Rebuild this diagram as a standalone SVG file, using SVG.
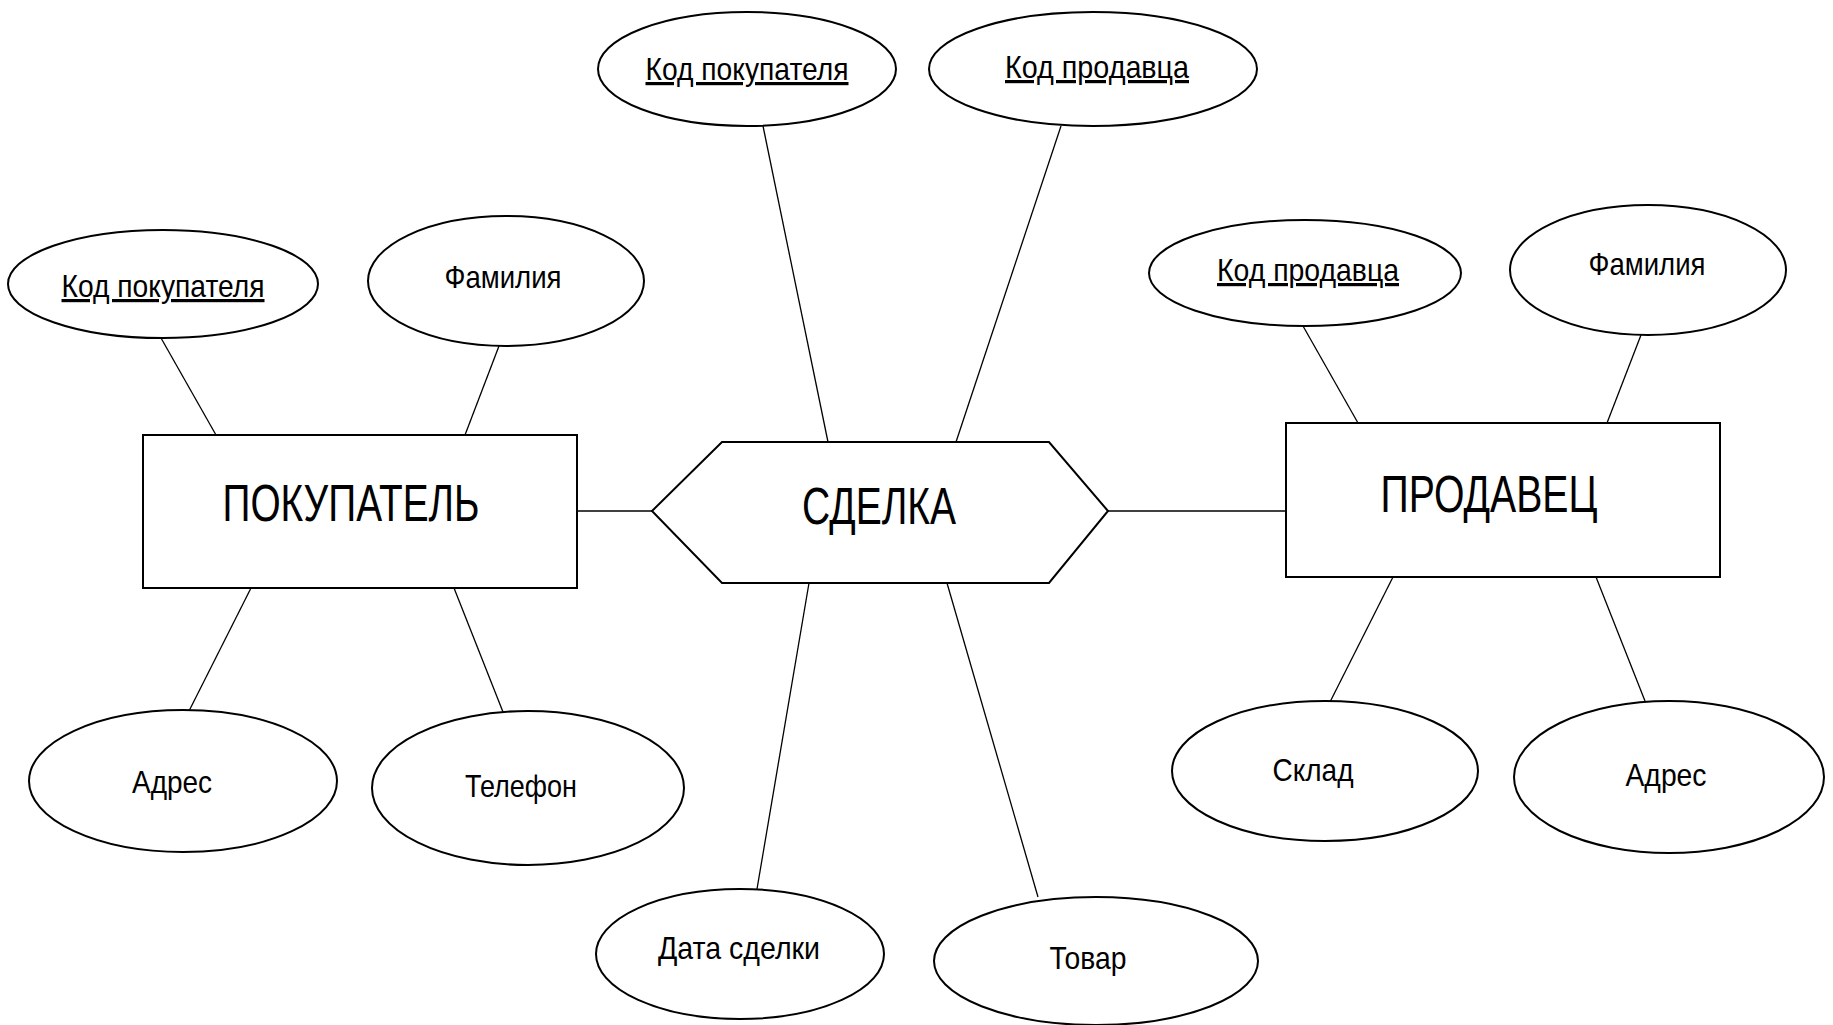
<svg xmlns="http://www.w3.org/2000/svg" width="1833" height="1025" viewBox="0 0 1833 1025">
<style>
.s{fill:#fff;stroke:#000;stroke-width:2}
.c line{stroke:#000;stroke-width:1.3}
text{font-family:"Liberation Sans",Arial,sans-serif;fill:#000;text-anchor:middle}
.a{font-size:32px}
.e{font-size:52px}
.u{text-decoration:underline}
</style>
<rect width="1833" height="1025" fill="#fff"/>
<g class="c" id="connectors">
<line x1="161" y1="338" x2="216" y2="435"/>
<line x1="499" y1="346" x2="465" y2="435"/>
<line x1="251" y1="588" x2="189" y2="711"/>
<line x1="454" y1="588" x2="503" y2="712"/>
<line x1="577" y1="511" x2="652" y2="511"/>
<line x1="763" y1="126" x2="828" y2="442"/>
<line x1="1061" y1="126" x2="956" y2="442"/>
<line x1="809" y1="583" x2="757" y2="889"/>
<line x1="947" y1="583" x2="1038" y2="897"/>
<line x1="1108" y1="511" x2="1286" y2="511"/>
<line x1="1303" y1="326" x2="1358" y2="423"/>
<line x1="1641" y1="335" x2="1607" y2="423"/>
<line x1="1393" y1="577" x2="1330" y2="702"/>
<line x1="1596" y1="577" x2="1645" y2="701"/>
</g>
<g id="buyer-code"><ellipse class="s" cx="163" cy="284" rx="155" ry="54"/><text class="a u" x="163" y="297" textLength="203" lengthAdjust="spacingAndGlyphs">Код покупателя</text></g>
<g id="buyer-surname"><ellipse class="s" cx="506" cy="281" rx="138" ry="65"/><text class="a" x="503" y="288" textLength="117" lengthAdjust="spacingAndGlyphs">Фамилия</text></g>
<g id="buyer"><rect class="s" x="143" y="435" width="434" height="153"/><text class="e" x="351" y="521" textLength="257" lengthAdjust="spacingAndGlyphs">ПОКУПАТЕЛЬ</text></g>
<g id="buyer-address"><ellipse class="s" cx="183" cy="781" rx="154" ry="71"/><text class="a" x="172" y="793" textLength="80" lengthAdjust="spacingAndGlyphs">Адрес</text></g>
<g id="buyer-phone"><ellipse class="s" cx="528" cy="788" rx="156" ry="77"/><text class="a" x="521" y="797" textLength="112" lengthAdjust="spacingAndGlyphs">Телефон</text></g>
<g id="deal-buyer-code"><ellipse class="s" cx="747" cy="69" rx="149" ry="57"/><text class="a u" x="747" y="80" textLength="203" lengthAdjust="spacingAndGlyphs">Код покупателя</text></g>
<g id="deal-seller-code"><ellipse class="s" cx="1093" cy="69" rx="164" ry="57"/><text class="a u" x="1097" y="78" textLength="184" lengthAdjust="spacingAndGlyphs">Код продавца</text></g>
<g id="deal"><polygon class="s" points="652,511 722,442 1049,442 1108,511 1049,583 722,583"/><text class="e" x="879" y="524" textLength="154" lengthAdjust="spacingAndGlyphs">СДЕЛКА</text></g>
<g id="deal-date"><ellipse class="s" cx="740" cy="954" rx="144" ry="65"/><text class="a" x="739" y="959" textLength="162" lengthAdjust="spacingAndGlyphs">Дата сделки</text></g>
<g id="deal-goods"><ellipse class="s" cx="1096" cy="961" rx="162" ry="64"/><text class="a" x="1088" y="969" textLength="77" lengthAdjust="spacingAndGlyphs">Товар</text></g>
<g id="seller-code"><ellipse class="s" cx="1305" cy="273" rx="156" ry="53"/><text class="a u" x="1308" y="281" textLength="182" lengthAdjust="spacingAndGlyphs">Код продавца</text></g>
<g id="seller-surname"><ellipse class="s" cx="1648" cy="270" rx="138" ry="65"/><text class="a" x="1647" y="275" textLength="117" lengthAdjust="spacingAndGlyphs">Фамилия</text></g>
<g id="seller"><rect class="s" x="1286" y="423" width="434" height="154"/><text class="e" x="1489" y="512" textLength="217" lengthAdjust="spacingAndGlyphs">ПРОДАВЕЦ</text></g>
<g id="seller-warehouse"><ellipse class="s" cx="1325" cy="771" rx="153" ry="70"/><text class="a" x="1313" y="781" textLength="81" lengthAdjust="spacingAndGlyphs">Склад</text></g>
<g id="seller-address"><ellipse class="s" cx="1669" cy="777" rx="155" ry="76"/><text class="a" x="1666" y="786" textLength="81" lengthAdjust="spacingAndGlyphs">Адрес</text></g>
</svg>
